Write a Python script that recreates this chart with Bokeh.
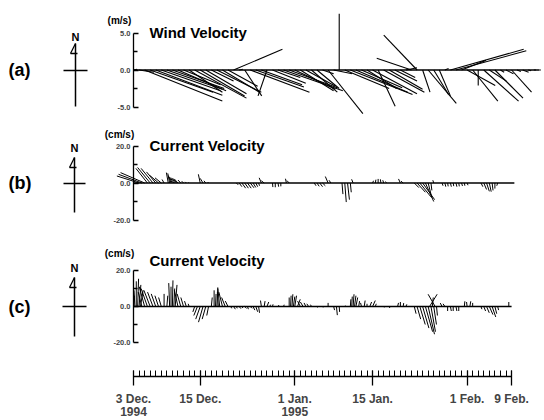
import numpy as np
from bokeh.plotting import figure
from bokeh.layouts import column
from bokeh.models import Range1d, FixedTicker, PrintfTickFormatter, Label, Arrow
from bokeh.embed import file_html
from bokeh.resources import INLINE

# ---------------- data ----------------
# (a) wind, m/s, daily sticks, day 0 = 3 Dec. 1994
wind_day = list(range(74))
wind_u = [0.5, 2.0, 10.5, 8.5, 9.0, 8.0, 7.5, 7.0, 6.5, 5.0,
          4.5, 7.0, 6.0, 5.5, 3.0, 6.0, 5.0, 4.0, 6.6, 0.5,
          2.3, 8.0, 6.5, 5.5, -1.2, 4.5, 3.0, 8.0, 6.5, 5.5,
          4.5, 4.0, 3.5, 3.0, 1.5, 4.7, 2.5, 0.0, 6.0, 8.4,
          7.0, 5.5, 4.0, 6.0, 2.3, 5.5, 4.5, 3.0, 2.0, 1.5,
          -4.7, -4.5, 1.0, 3.8, 2.0, 1.5, 0.5, 9.9, 9.5, 3.3,
          3.8, 3.4, 0.0, 4.7, 2.3, 3.8, 0.5, 1.0, 2.7, 0.5,
          0.8, 0.4, 0.3, 0.2]
wind_v = [0.1, -0.3, -4.2, -3.0, -3.4, -2.8, -2.6, -2.5, -2.8, -2.0,
          -3.0, -3.8, -3.5, -3.2, -1.5, -3.0, -3.0, -2.2, 2.8, 0.1,
          -3.5, -3.0, -2.3, -2.0, -3.5, -1.8, -1.0, -2.8, -2.4, -2.6,
          -2.8, -2.2, -3.0, -2.5, -0.5, -5.9, -0.5, 7.6, -2.5, -3.3,
          -3.0, -2.4, -2.5, -3.2, -4.9, -3.0, -2.6, -1.5, -1.0, 0.3,
          1.6, 4.7, -3.0, -4.5, -3.3, -3.5, 0.2, 2.8, 2.6, 1.3,
          -2.1, -4.2, -2.1, -4.2, -1.5, -3.8, -0.3, -0.5, -3.0, -0.2,
          -0.3, -0.1, 0.0, 0.0]

# (b) current, cm/s
cur_b_day = [0.0, 1.0, 1.5, 2.0, 2.5, 3.0, 3.5, 4.0, 4.5, 5.0, 5.5,
             6.25, 6.5, 6.75, 7.0, 7.25, 7.5, 7.75, 8.0, 8.5, 9.0, 9.5, 10.0,
             12.0, 12.5, 13.0, 13.5,
             18.5, 19.0, 19.5, 20.0, 20.5, 21.0, 21.5, 22.0, 22.5, 23.0, 23.5,
             25.0, 25.5, 26.0, 26.5, 27.5, 28.0,
             32.5, 33.0, 33.5, 34.0, 35.0, 35.5,
             37.5, 38.0, 38.5, 39.0, 39.5,
             43.0, 43.5, 44.0, 44.5, 45.0, 45.5, 48.0, 48.5,
             50.5, 51.0, 51.5, 52.0, 52.5, 53.0, 53.5, 54.0,
             55.5, 56.0, 56.5, 57.0, 57.5, 58.0, 58.5, 59.0, 59.5, 60.0,
             62.5, 63.0, 63.5, 64.0, 64.5, 65.0, 65.5, 68.5]
cur_b_u = [0.0, -12.0, -12.6, -13.0, -6.2, -6.8, -6.4, -5.0, -4.7, -3.4, -1.1,
           -1.0, -1.0, -1.5, -2.0, -2.0, -2.0, -2.0, -2.0, -1.5, -1.0, -0.6, -0.3,
           -1.0, -1.5, -1.0, -0.5,
           1.0, 1.5, 2.0, 2.0, 2.0, 2.0, 1.5, 1.0, 0.5, -1.2, -1.5,
           0.2, 0.0, 0.3, 0.0, -0.5, -1.2,
           1.0, 1.2, 1.5, 1.5, -1.5, -1.0,
           0.5, 0.8, 1.0, 0.5, -0.8,
           0.5, 0.3, 0.0, -0.3, -0.5, -0.5, -1.0, -1.2,
           2.5, 4.5, 6.0, 6.5, 4.5, 2.0, 0.5, -0.5,
           0.5, 0.5, 0.3, 0.5, 0.3, 0.5, 0.3, 0.5, 0.3, 0.5,
           1.0, 1.5, 1.5, 1.0, 0.5, 0.0, -0.5, 0.0]
cur_b_v = [0.0, 3.8, 4.7, 5.6, 7.9, 8.4, 7.9, 6.0, 4.1, 2.8, 1.9,
           5.6, 5.2, 4.0, 3.5, 3.0, 2.8, 2.5, 2.2, 1.6, 1.0, 0.6, 0.3,
           4.7, 2.5, 1.2, 0.5,
           -1.0, -2.0, -2.8, -2.8, -2.8, -2.6, -2.4, -2.0, -1.5, 2.8, 1.2,
           -2.2, -2.3, -2.0, -1.8, 2.3, 1.3,
           -1.5, -1.8, -2.0, -1.5, 3.5, 1.5,
           -6.0, -10.3, -9.0, -5.0, 2.0,
           1.2, 1.8, 2.2, 2.0, 1.5, 0.8, 2.2, 1.0,
           -2.5, -5.0, -7.5, -9.0, -10.0, -8.0, -4.0, 1.5,
           -1.5, -2.0, -1.8, -2.0, -1.7, -2.0, -1.8, -1.6, -1.5, -1.2,
           -2.0, -3.5, -4.5, -4.7, -4.0, -3.0, -1.5, 0.0]

# (c) current, cm/s
cur_c_day = [0.0, 0.25, 0.5, 0.75, 1.0, 1.25, 1.5, 2.0, 2.5, 3.0, 3.5, 4.0, 4.5, 5.0,
             5.5, 6.0, 6.5, 6.75, 7.0, 7.25, 7.5, 8.0, 8.5, 9.0, 9.5, 10.0,
             11.0, 11.5, 12.0, 12.5, 13.0, 13.5,
             14.0, 14.5, 14.75, 15.0, 15.25, 15.5, 16.0, 16.5, 17.0,
             17.5, 18.0, 18.5, 19.0, 19.5, 20.0, 20.5, 21.0, 21.5, 22.0, 22.5,
             23.0, 23.5, 24.0, 24.5, 25.0, 26.0, 27.0,
             28.0, 28.25, 28.5, 28.75, 29.0, 29.5, 30.0, 30.5, 31.0, 31.5, 32.0,
             33.0, 34.0, 35.0, 36.0, 36.5, 37.0, 38.0,
             39.0, 39.25, 39.5, 39.75, 40.0, 40.5, 41.0, 41.5, 42.0, 42.5, 43.0, 43.5,
             45.0, 46.0, 47.5, 48.0, 48.5, 49.0,
             50.5, 51.0, 51.5, 52.0, 52.5, 53.0, 53.25, 53.5, 53.75, 54.0, 54.25, 54.5,
             55.5, 56.0, 56.5, 57.0, 57.5, 58.0, 58.5,
             59.5, 60.0, 60.5, 61.0,
             62.5, 63.0, 63.5, 64.0, 64.5, 65.0, 65.5, 67.5, 68.0]
cur_c_u = [0.5, -0.5, 0.0, 0.5, 1.0, 1.5, -2.0, -3.0, -3.5, -3.5, -3.0, -2.5, -2.0, -1.5,
           0.0, 0.5, -0.5, 0.0, 0.3, 0.5, 1.0, -2.0, -2.0, -1.5, -1.0, -0.5,
           -1.0, -2.0, -2.5, -2.5, -2.0, -1.0,
           0.5, 0.0, 0.3, 0.5, -0.5, -1.0, -2.0, -2.0, -1.5,
           0.5, 1.0, 0.5, 1.0, 0.5, 1.0, 0.5, 1.0, 1.0, 1.0, 0.5,
           -0.5, 0.5, 1.0, 0.5, 0.3, 0.5, 0.3,
           0.0, 0.3, 0.5, 0.8, 1.0, 1.5, -1.5, -1.5, -1.0, -1.0, -0.5,
           0.5, 0.3, 0.0, 0.5, 0.5, 0.2, 0.3,
           0.3, 0.3, 0.5, 0.8, 1.0, 0.5, -0.5, 0.5, 0.0, 1.0, 1.5, 0.5,
           0.3, 0.3, 0.5, 0.0, 0.3, 0.5,
           1.0, 2.0, 3.0, 3.5, 4.0, 3.5, 4.2, 2.5, 0.5, 1.5, -3.9, 0.5,
           -1.0, -1.0, 0.0, 0.5, 0.0, 0.5, 0.0,
           0.3, -0.3, 0.5, 0.0,
           0.5, 1.0, 1.5, 2.0, 2.0, 1.0, 0.5, 0.0, 0.0]
cur_c_v = [6.0, 9.0, 14.0, 15.4, 12.0, 9.0, 8.0, 11.0, 10.0, 9.0, 8.0, 7.0, 6.0, 5.0,
           7.0, 6.0, 13.0, 11.0, 14.5, 10.0, 12.0, 9.0, 7.0, 5.0, 3.0, 1.5,
           -3.0, -5.0, -7.0, -8.7, -7.0, -5.0,
           5.0, 9.0, 7.0, 10.6, 8.0, 10.0, 8.0, 5.0, 3.0,
           -1.0, -1.5, -1.0, -1.2, -0.8, -1.0, -1.5, -1.0, -2.0, -2.9, -3.5,
           3.3, 3.0, 2.5, 1.0, 1.2, 0.8, 1.0,
           5.0, 6.0, 6.8, 5.5, 6.0, 4.0, 3.0, 2.5, 2.0, 1.5, 1.0,
           -0.5, -0.5, 2.0, -2.0, -4.8, -3.0, 0.5,
           4.0, 5.5, 6.8, 6.0, 5.0, 3.0, 2.0, 3.3, 1.5, 2.5, 3.3, 1.5,
           -0.5, -0.8, 2.0, 2.5, 1.9, 1.2,
           -4.0, -7.0, -10.0, -12.0, -14.0, -15.4, 6.8, -14.0, 5.0, -10.0, 6.8, -5.0,
           1.9, 1.5, -2.5, -2.5, -2.5, -2.5, -2.5,
           2.9, 2.5, 2.9, 2.0,
           -1.5, -2.5, -3.5, -4.5, -5.8, -4.0, -2.0, 2.5, 0.0]

# time-axis ticks (days after 3 Dec. 1994)
tick_days = [0, 12, 29, 43, 60, 68]
tick_labels = ["3 Dec.", "15 Dec.", "1 Jan.", "15 Jan.", "1 Feb.", "9 Feb."]
year_days = [0, 29]
year_labels = ["1994", "1995"]

# ---------------- layout ----------------
FONT = "Liberation Sans"
W = 544
AXIS_X = 133          # pixel column of day 0
PX_PER_DAY = 5.56
X_START = -AXIS_X / PX_PER_DAY
X_END = (W - AXIS_X) / PX_PER_DAY


def txt(p, top, x, y, text, size, align="left", baseline="middle"):
    p.add_layout(Label(x=x, y=y - top, x_units="canvas", y_units="canvas",
                       text=text, text_font=FONT, text_font_size=size,
                       text_font_style="bold", text_align=align,
                       text_baseline=baseline, text_color="black"))


def line(p, top, x0, y0, x1, y1, w=1.5):
    p.add_layout(Arrow(x_start=x0, y_start=y0 - top, x_end=x1, y_end=y1 - top,
                       start_units="canvas", end_units="canvas", start=None, end=None,
                       line_color="black", line_width=w))


def make_panel(day, u, v, top, height, zero_page, px_unit, ymax,
               letter, unit, title, cx, n_y, head_y, cross_y, cross_half, tail_y,
               unit_y, title_y, lw, with_time_axis=False):
    y_end = (zero_page - top) / px_unit
    y_start = -(top + height - zero_page) / px_unit
    p = figure(width=W, height=height, x_range=Range1d(X_START, X_END),
               y_range=Range1d(y_start, y_end), output_backend="svg",
               toolbar_location=None, min_border_left=0, min_border_right=0,
               min_border_top=0, min_border_bottom=0,
               x_axis_location="below" if with_time_axis else None)
    p.outline_line_color = None
    p.xgrid.visible = False
    p.ygrid.visible = False

    ya = p.yaxis[0]
    ya.fixed_location = 0
    ya.ticker = FixedTicker(ticks=[-ymax, 0, ymax], minor_ticks=[-ymax / 2, ymax / 2])
    ya.formatter = PrintfTickFormatter(format="%.1f")
    ya.bounds = (-ymax, ymax)
    ya.major_tick_in = 5
    ya.major_tick_out = 0
    ya.minor_tick_in = 4
    ya.minor_tick_out = 0
    ya.axis_line_width = 1.3
    ya.major_tick_line_width = 1.3
    ya.minor_tick_line_width = 1.3
    ya.major_label_text_font = FONT
    ya.major_label_text_font_style = "bold"
    ya.major_label_text_font_size = "7.5px"
    ya.major_label_standoff = 3

    d = np.array(day, dtype=float)
    k = px_unit / PX_PER_DAY
    p.segment(x0=[d.min()], y0=[0], x1=[d.max()], y1=[0], line_color="black", line_width=1.6)
    p.segment(x0=d, y0=np.zeros_like(d), x1=d + np.array(u) * k, y1=np.array(v),
              line_color="black", line_width=lw)

    txt(p, top, 8, zero_page, letter, "18px")
    txt(p, top, cx, n_y, "N", "11px", align="center")
    line(p, top, cx, head_y, cx, tail_y)
    line(p, top, cx - cross_half, cross_y, cx + cross_half, cross_y)
    line(p, top, cx, head_y, cx - 5, head_y + 10, 1.3)
    line(p, top, cx - 5, head_y + 10, cx + 2, head_y + 10, 1.3)
    txt(p, top, 119, unit_y, unit, "10px", align="center")
    txt(p, top, 149, title_y, title, "15px")
    return p


pa = make_panel(wind_day, wind_u, wind_v, top=0, height=116,
                zero_page=69.5, px_unit=7.4, ymax=5.0, letter="(a)", unit="(m/s)",
                title="Wind Velocity", cx=75, n_y=36, head_y=43, cross_y=70,
                cross_half=12, tail_y=106, unit_y=20, title_y=32, lw=1.1)
pb = make_panel(cur_b_day, cur_b_u, cur_b_v, top=116, height=116,
                zero_page=182.5, px_unit=1.85, ymax=20.0, letter="(b)", unit="(cm/s)",
                title="Current Velocity", cx=74, n_y=147, head_y=157, cross_y=183,
                cross_half=11, tail_y=212, unit_y=134, title_y=145, lw=1.0)
C_TOP, C_ZERO, C_PX = 232, 306, 1.8
RULER_Y = 376
pc = make_panel(cur_c_day, cur_c_u, cur_c_v, top=C_TOP, height=420 - C_TOP,
                zero_page=C_ZERO, px_unit=C_PX, ymax=20.0, letter="(c)", unit="(cm/s)",
                title="Current Velocity", cx=74, n_y=267, head_y=277, cross_y=306,
                cross_half=12, tail_y=336, unit_y=253, title_y=260, lw=1.0,
                with_time_axis=True)

xa = pc.xaxis[0]
xa.fixed_location = -(RULER_Y - C_ZERO) / C_PX
xa.ticker = FixedTicker(ticks=tick_days, minor_ticks=list(range(tick_days[0], tick_days[-1] + 1)))
xa.major_label_overrides = {dd: lab for dd, lab in zip(tick_days, tick_labels)}
xa.bounds = (tick_days[0], tick_days[-1])
xa.major_tick_in = 6
xa.major_tick_out = 9
xa.minor_tick_in = 6
xa.minor_tick_out = 0
xa.axis_line_width = 1.3
xa.major_tick_line_width = 1.3
xa.minor_tick_line_width = 1.0
xa.major_label_text_font = FONT
xa.major_label_text_font_style = "bold"
xa.major_label_text_font_size = "12px"
xa.major_label_standoff = 6

for yd, yl in zip(year_days, year_labels):
    pc.add_layout(Label(x=yd, y=406 - C_TOP, x_units="data", y_units="canvas", text=yl,
                        text_font=FONT, text_font_style="bold", text_font_size="12px",
                        text_align="center", text_baseline="top"))

layout = column(pa, pb, pc, spacing=0)
open("out.html", "w").write(file_html(layout, INLINE, "stick plots"))
